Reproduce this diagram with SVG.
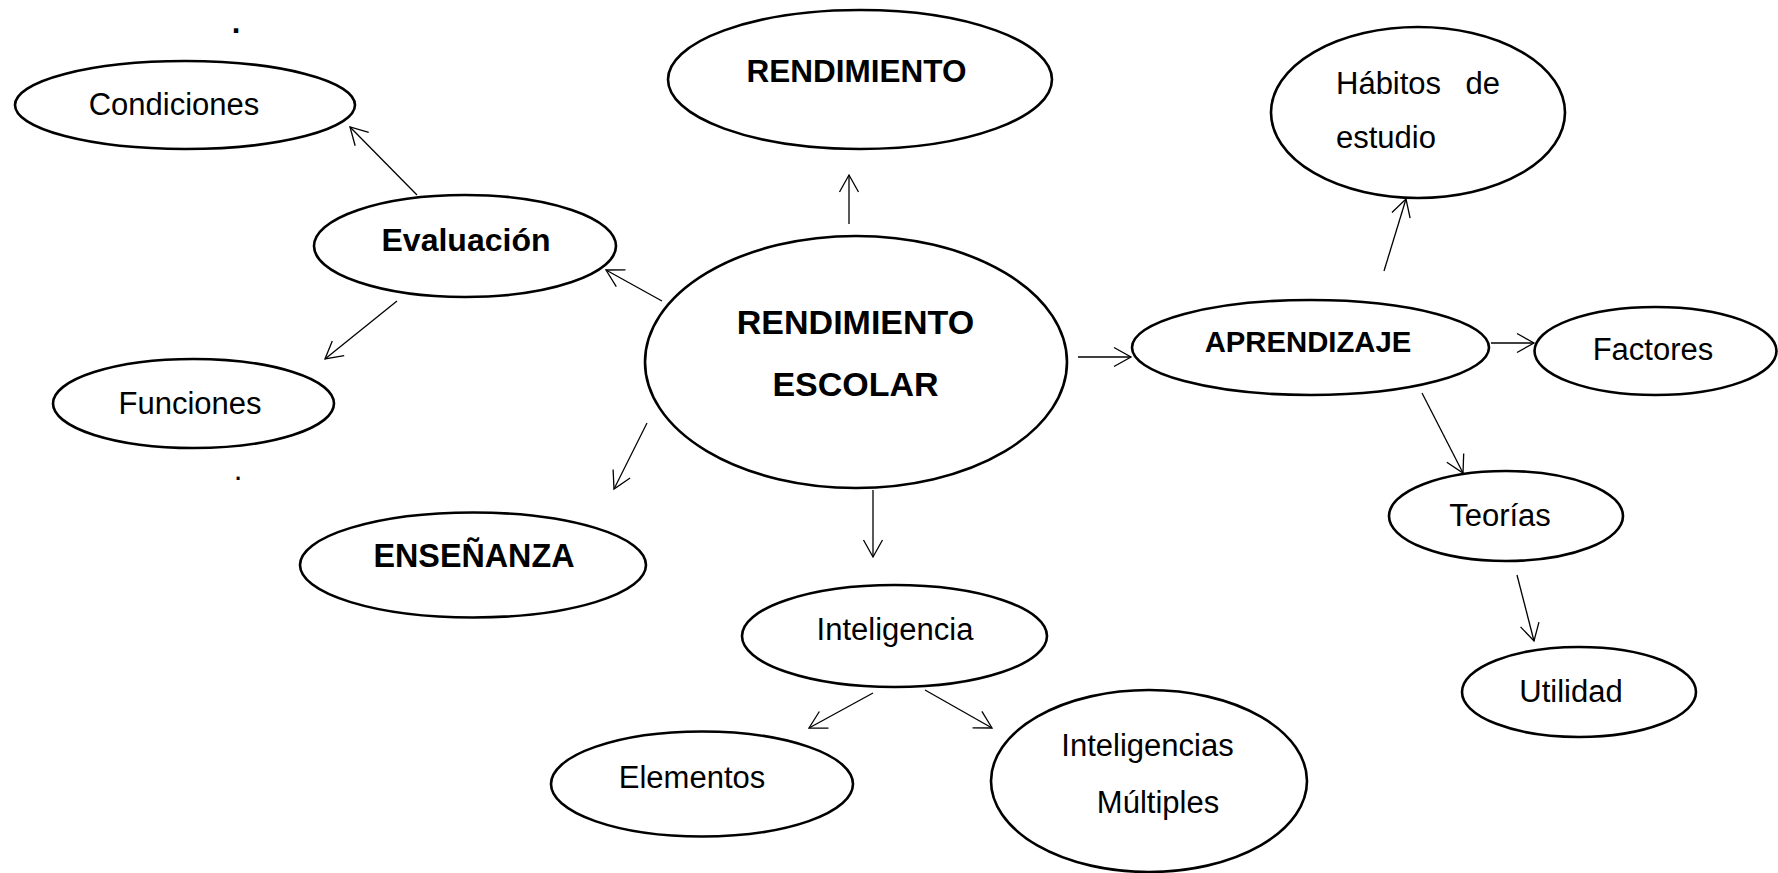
<svg xmlns="http://www.w3.org/2000/svg" width="1778" height="873" viewBox="0 0 1778 873">
<style>
.n ellipse{fill:#fff;stroke:#000;stroke-width:2.6}
text{font-family:"Liberation Sans",Arial,sans-serif;fill:#000}
.r{font-size:31px}
.b{font-weight:bold}
.c{text-anchor:middle}
.conn line{stroke:#000;stroke-width:1.3;marker-end:url(#arr)}
</style>
<defs>
<marker id="arr" markerUnits="userSpaceOnUse" markerWidth="40" markerHeight="40" viewBox="-20 -20 40 40" refX="0" refY="0" orient="auto" overflow="visible">
<path d="M-17,-9.5 L0,0 L-17,9.5" fill="none" stroke="#000" stroke-width="1.3"/>
</marker>
</defs>
<rect width="1778" height="873" fill="#fff"/>
<text class="r b c" x="236" y="33">.</text>
<text class="r c" x="238" y="480">.</text>
<g class="conn">
<line x1="417" y1="195" x2="350" y2="127"/>
<line x1="662" y1="301" x2="606" y2="270"/>
<line x1="397" y1="301" x2="325" y2="359"/>
<line x1="647" y1="423" x2="614" y2="489"/>
<line x1="849" y1="224" x2="849" y2="175"/>
<line x1="1078" y1="357" x2="1131" y2="357"/>
<line x1="1384" y1="271" x2="1406" y2="199"/>
<line x1="1491" y1="343" x2="1534" y2="343"/>
<line x1="1422" y1="393" x2="1463" y2="473"/>
<line x1="1517" y1="575" x2="1534" y2="641"/>
<line x1="873" y1="490" x2="873" y2="557"/>
<line x1="873" y1="693" x2="809" y2="728"/>
<line x1="925" y1="690" x2="992" y2="728"/>
</g>
<g id="condiciones" class="n"><ellipse cx="185" cy="105" rx="170" ry="44"/><text class="r c" x="174" y="115">Condiciones</text></g>
<g id="evaluacion" class="n"><ellipse cx="465" cy="246" rx="151" ry="51"/><text class="b c" style="font-size:32px" x="466" y="251">Evaluación</text></g>
<g id="funciones" class="n"><ellipse cx="193.5" cy="403.5" rx="140.5" ry="44.5"/><text class="r c" x="190" y="414">Funciones</text></g>
<g id="rendimiento" class="n"><ellipse cx="860" cy="79.5" rx="192" ry="69.5"/><text class="b c" style="font-size:31.5px" x="856.5" y="82">RENDIMIENTO</text></g>
<g id="rendimiento-escolar" class="n"><ellipse cx="856" cy="362" rx="211" ry="126"/><text class="b c" style="font-size:34px" x="855.5" y="334">RENDIMIENTO</text><text class="b c" style="font-size:34px" x="855.5" y="396">ESCOLAR</text></g>
<g id="habitos" class="n"><ellipse cx="1418" cy="112.5" rx="147" ry="85.5"/><text class="r" x="1336" y="94">Hábitos</text><text class="r" x="1500" y="94" text-anchor="end">de</text><text class="r" x="1336" y="148">estudio</text></g>
<g id="aprendizaje" class="n"><ellipse cx="1310.5" cy="347.5" rx="178.5" ry="47.5"/><text class="b c" style="font-size:29.3px" x="1308" y="352">APRENDIZAJE</text></g>
<g id="factores" class="n"><ellipse cx="1655.5" cy="351" rx="121" ry="44"/><text class="r c" x="1653" y="360">Factores</text></g>
<g id="teorias" class="n"><ellipse cx="1506" cy="516" rx="117" ry="45"/><text class="r c" x="1500" y="526">Teorías</text></g>
<g id="utilidad" class="n"><ellipse cx="1579" cy="692" rx="117" ry="45"/><text class="r c" x="1571" y="702">Utilidad</text></g>
<g id="ensenanza" class="n"><ellipse cx="473" cy="565" rx="173" ry="52.5"/><text class="b c" style="font-size:32.3px" x="474" y="567">ENSEÑANZA</text></g>
<g id="inteligencia" class="n"><ellipse cx="894.5" cy="636" rx="152.5" ry="51"/><text class="r c" x="895" y="640">Inteligencia</text></g>
<g id="elementos" class="n"><ellipse cx="702" cy="784" rx="151" ry="52.5"/><text class="r c" x="692" y="788">Elementos</text></g>
<g id="inteligencias-multiples" class="n"><ellipse cx="1149" cy="781" rx="158" ry="91"/><text class="r c" x="1147.5" y="756">Inteligencias</text><text class="r c" x="1158" y="813">Múltiples</text></g>
</svg>
